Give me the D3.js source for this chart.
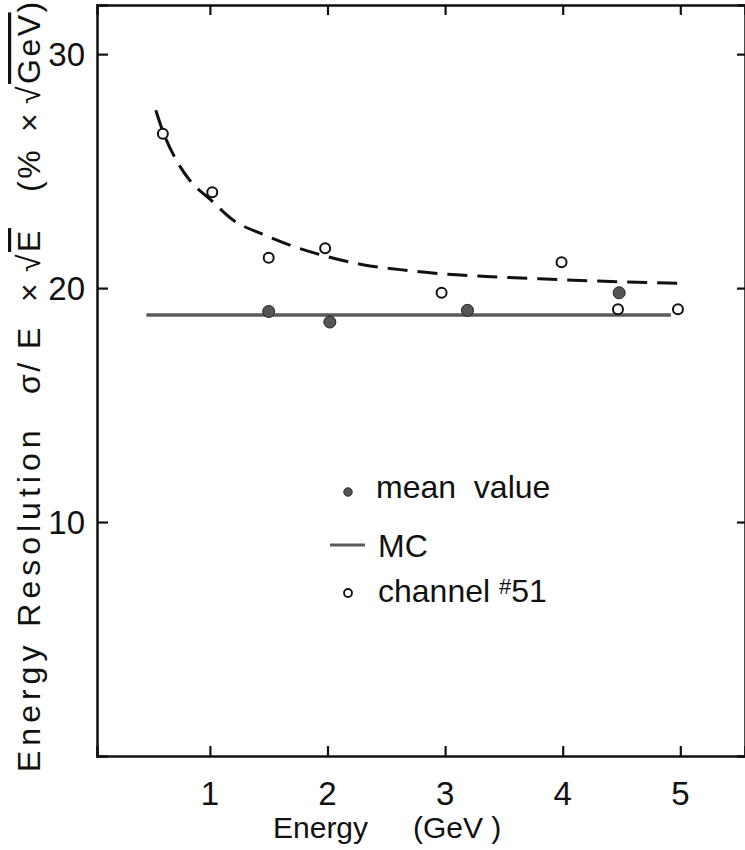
<!DOCTYPE html>
<html>
<head>
<meta charset="utf-8">
<script src="https://cdn.jsdelivr.net/npm/d3@7"></script>
<style>
  body { margin: 0; background: #fff; }
  text { font-family: "Liberation Sans", Arial, sans-serif; fill: #111; }
</style>
</head>
<body>
<div id="plot"></div>
<script>
// channel #51 (open circles)
var channelE   = [0.60, 1.02, 1.50, 1.98, 2.97, 3.99, 4.47, 4.98];
var channelRes = [26.6, 24.1, 21.3, 21.7, 19.8, 21.1, 19.1, 19.1];

// mean value (filled circles)
var meanE   = [1.50, 2.02, 3.19, 4.48];
var meanRes = [19.0, 18.55, 19.05, 19.8];

// MC (solid line)
var mcE   = [0.46, 4.92];
var mcRes = [18.85, 18.85];

// dashed curve
var fitE   = [0.54, 0.60, 0.70, 0.83, 1.00, 1.20, 1.45, 1.70, 1.96, 2.30, 2.69, 3.00, 3.35, 3.80, 4.30, 5.00];
var fitRes = [27.6, 26.7, 25.6, 24.6, 23.8, 22.9, 22.3, 21.8, 21.4, 21.0, 20.75, 20.6, 20.5, 20.4, 20.3, 20.2];

var xTicks = [1, 2, 3, 4, 5];
var yTicks = [10, 20, 30];

var width = 745, height = 850;

var svg = d3.select("#plot").append("svg")
            .attr("width", width)
            .attr("height", height);

var x = d3.scaleLinear().domain([0.04, 5.55]).range([97, 745]);
var y = d3.scaleLinear().domain([0, 32.1]).range([756, 5]);

// frame, all ticks pointing inside
svg.append("g")
   .attr("transform", "translate(0," + y(0) + ")")
   .call(d3.axisTop(x).tickValues(xTicks).tickSize(10).tickFormat(""));

svg.append("g")
   .attr("transform", "translate(0," + y(32.1) + ")")
   .call(d3.axisBottom(x).tickValues(xTicks).tickSize(10).tickFormat(""));

svg.append("g")
   .attr("transform", "translate(" + x(0.04) + ",0)")
   .call(d3.axisRight(y).tickValues(yTicks).tickSize(11).tickFormat(""));

svg.append("g")
   .attr("transform", "translate(" + x(5.55) + ",0)")
   .call(d3.axisLeft(y).tickValues(yTicks).tickSize(8).tickFormat(""));

svg.selectAll(".domain").attr("stroke", "#111").attr("stroke-width", 2.5);
svg.selectAll(".tick line").attr("stroke", "#111").attr("stroke-width", 2.2);

// tick labels
svg.selectAll(".xlab").data(xTicks).enter().append("text")
   .attr("x", function(d){ return x(d); })
   .attr("y", 805)
   .attr("text-anchor", "middle")
   .style("font-size", "33px")
   .text(function(d){ return d; });

svg.selectAll(".ylab").data(yTicks).enter().append("text")
   .attr("x", 85)
   .attr("y", function(d){ return y(d) + 12; })
   .attr("text-anchor", "end")
   .style("font-size", "33px")
   .text(function(d){ return d; });

// axis titles
var xt = svg.append("text").attr("y", 838).style("font-size", "30px");
xt.append("tspan").attr("x", 273).text("Energy");
xt.append("tspan").attr("x", 413).text("(GeV )");

var yt = svg.append("text")
   .attr("transform", "translate(40,772) rotate(-90)")
   .style("font-size", "32px")
   .style("letter-spacing", "2.5px");
yt.append("tspan").attr("x", 0).style("letter-spacing", "5px").text("Energy Resolution");
yt.append("tspan").attr("x", 378).text("σ/ E");
yt.append("tspan").attr("x", 470).text("×");
yt.append("tspan").attr("x", 500).text("√");
yt.append("tspan").style("text-decoration", "overline").text("E");
yt.append("tspan").attr("x", 580).text("(%");
yt.append("tspan").attr("x", 640).text("×");
yt.append("tspan").attr("x", 668).text("√");
yt.append("tspan").style("text-decoration", "overline").text("GeV");
yt.append("tspan").text(")");

// MC line
var line = d3.line()
   .x(function(d){ return x(d[0]); })
   .y(function(d){ return y(d[1]); });

svg.append("path")
   .datum(d3.zip(mcE, mcRes))
   .attr("d", line)
   .attr("fill", "none")
   .attr("stroke", "#5a5a5a")
   .attr("stroke-width", 3.5);

// dashed curve
svg.append("path")
   .datum(d3.zip(fitE, fitRes))
   .attr("d", line.curve(d3.curveMonotoneX))
   .attr("fill", "none")
   .attr("stroke", "#111")
   .attr("stroke-width", 3)
   .attr("stroke-dasharray", "20,10");

// mean values
svg.selectAll(".mean").data(d3.zip(meanE, meanRes)).enter().append("circle")
   .attr("cx", function(d){ return x(d[0]); })
   .attr("cy", function(d){ return y(d[1]); })
   .attr("r", 6)
   .attr("fill", "#555")
   .attr("stroke", "#222")
   .attr("stroke-width", 1);

// channel #51
svg.selectAll(".chan").data(d3.zip(channelE, channelRes)).enter().append("circle")
   .attr("cx", function(d){ return x(d[0]); })
   .attr("cy", function(d){ return y(d[1]); })
   .attr("r", 5)
   .attr("fill", "#fff")
   .attr("stroke", "#111")
   .attr("stroke-width", 2);

// legend
var lg = svg.append("g");
lg.append("circle").attr("cx", 348).attr("cy", 492).attr("r", 4.2)
  .attr("fill", "#555").attr("stroke", "#222");
lg.append("text").attr("x", 376).attr("y", 498).style("font-size", "32px")
  .attr("xml:space", "preserve").text("mean  value");

lg.append("line").attr("x1", 330).attr("x2", 365).attr("y1", 545).attr("y2", 545)
  .attr("stroke", "#5a5a5a").attr("stroke-width", 3);
lg.append("text").attr("x", 378).attr("y", 557).style("font-size", "32px").text("MC");

lg.append("circle").attr("cx", 348).attr("cy", 593).attr("r", 4)
  .attr("fill", "#fff").attr("stroke", "#111").attr("stroke-width", 1.8);
var ch = lg.append("text").attr("x", 378).attr("y", 602).style("font-size", "32px");
ch.append("tspan").text("channel ");
ch.append("tspan").attr("dy", -8).style("font-size", "22px").text("#");
ch.append("tspan").attr("dy", 8).text("51");
</script>
</body>
</html>
